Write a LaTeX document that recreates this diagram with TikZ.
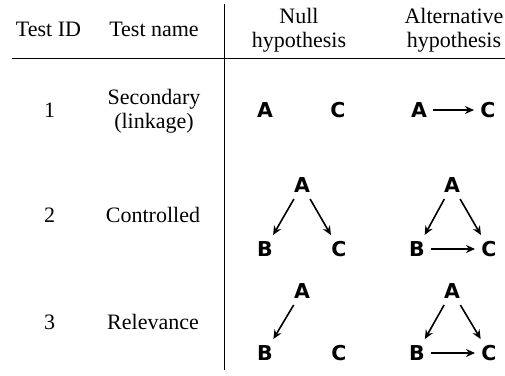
\documentclass[tikz,border=0pt]{standalone}
\usepackage{fontspec}
\setmainfont{Liberation Serif}
\newfontfamily\varfont{DejaVu Sans}
\usetikzlibrary{arrows.meta}
\tikzset{
  label text/.style={font=\fontsize{22}{23.5}\selectfont, align=center, inner sep=0pt},
  var/.style={font=\varfont\bfseries\fontsize{20.5}{20}\selectfont, inner sep=0pt, outer sep=6.5pt,
              text height=15pt, text depth=0pt},
  edge/.style={line width=1.6pt, -{Stealth[length=9pt,width=8pt]}},
  rule/.style={line width=0.9pt}
}
\begin{document}
\begin{tikzpicture}[x=1pt,y=-1pt]
  \useasboundingbox (0,0) rectangle (505,375);

  % table rules
  \coordinate (hl) at (12,58);
  \coordinate (hr) at (505,58);
  \coordinate (vt) at (224,4);
  \coordinate (vb) at (224,370);
  \draw[rule] (hl) -- (hr);
  \draw[rule] (vt) -- (vb);

  % header
  \node[label text] (hid)   at (48.5,29)  {Test ID};
  \node[label text] (hname) at (154,29)   {Test name};
  \node[label text] (hnull) at (299,30)   {Null\\hypothesis};
  \node[label text] (halt)  at (454,30)   {Alternative\\hypothesis};

  % row labels
  \node[label text] (id1) at (49.5,110) {1};
  \node[label text] (nm1) at (154,111)  {Secondary\\(linkage)};
  \node[label text] (id2) at (49.5,215) {2};
  \node[label text] (nm2) at (153,215)  {Controlled};
  \node[label text] (id3) at (49.5,322) {3};
  \node[label text] (nm3) at (153,322)  {Relevance};

  % test 1: secondary (linkage)
  \node[var] (n1a) at (265,110) {A};
  \node[var] (n1c) at (338,110) {C};
  \node[var] (a1a) at (419,110) {A};
  \node[var] (a1c) at (488,110) {C};
  \draw[edge] (a1a) -- (a1c);

  % test 2: controlled
  \node[var] (n2a) at (302,185) {A};
  \node[var] (n2b) at (265,249) {B};
  \node[var] (n2c) at (339,249) {C};
  \draw[edge] (n2a) -- (n2b);
  \draw[edge] (n2a) -- (n2c);
  \node[var] (a2a) at (452,185) {A};
  \node[var] (a2b) at (417,249) {B};
  \node[var] (a2c) at (489,249) {C};
  \draw[edge] (a2a) -- (a2b);
  \draw[edge] (a2a) -- (a2c);
  \draw[edge] (a2b) -- (a2c);

  % test 3: relevance
  \node[var] (n3a) at (302,291) {A};
  \node[var] (n3b) at (265,353) {B};
  \node[var] (n3c) at (339,353) {C};
  \draw[edge] (n3a) -- (n3b);
  \node[var] (a3a) at (452,291) {A};
  \node[var] (a3b) at (417,353) {B};
  \node[var] (a3c) at (489,353) {C};
  \draw[edge] (a3a) -- (a3b);
  \draw[edge] (a3a) -- (a3c);
  \draw[edge] (a3b) -- (a3c);
\end{tikzpicture}
\end{document}
